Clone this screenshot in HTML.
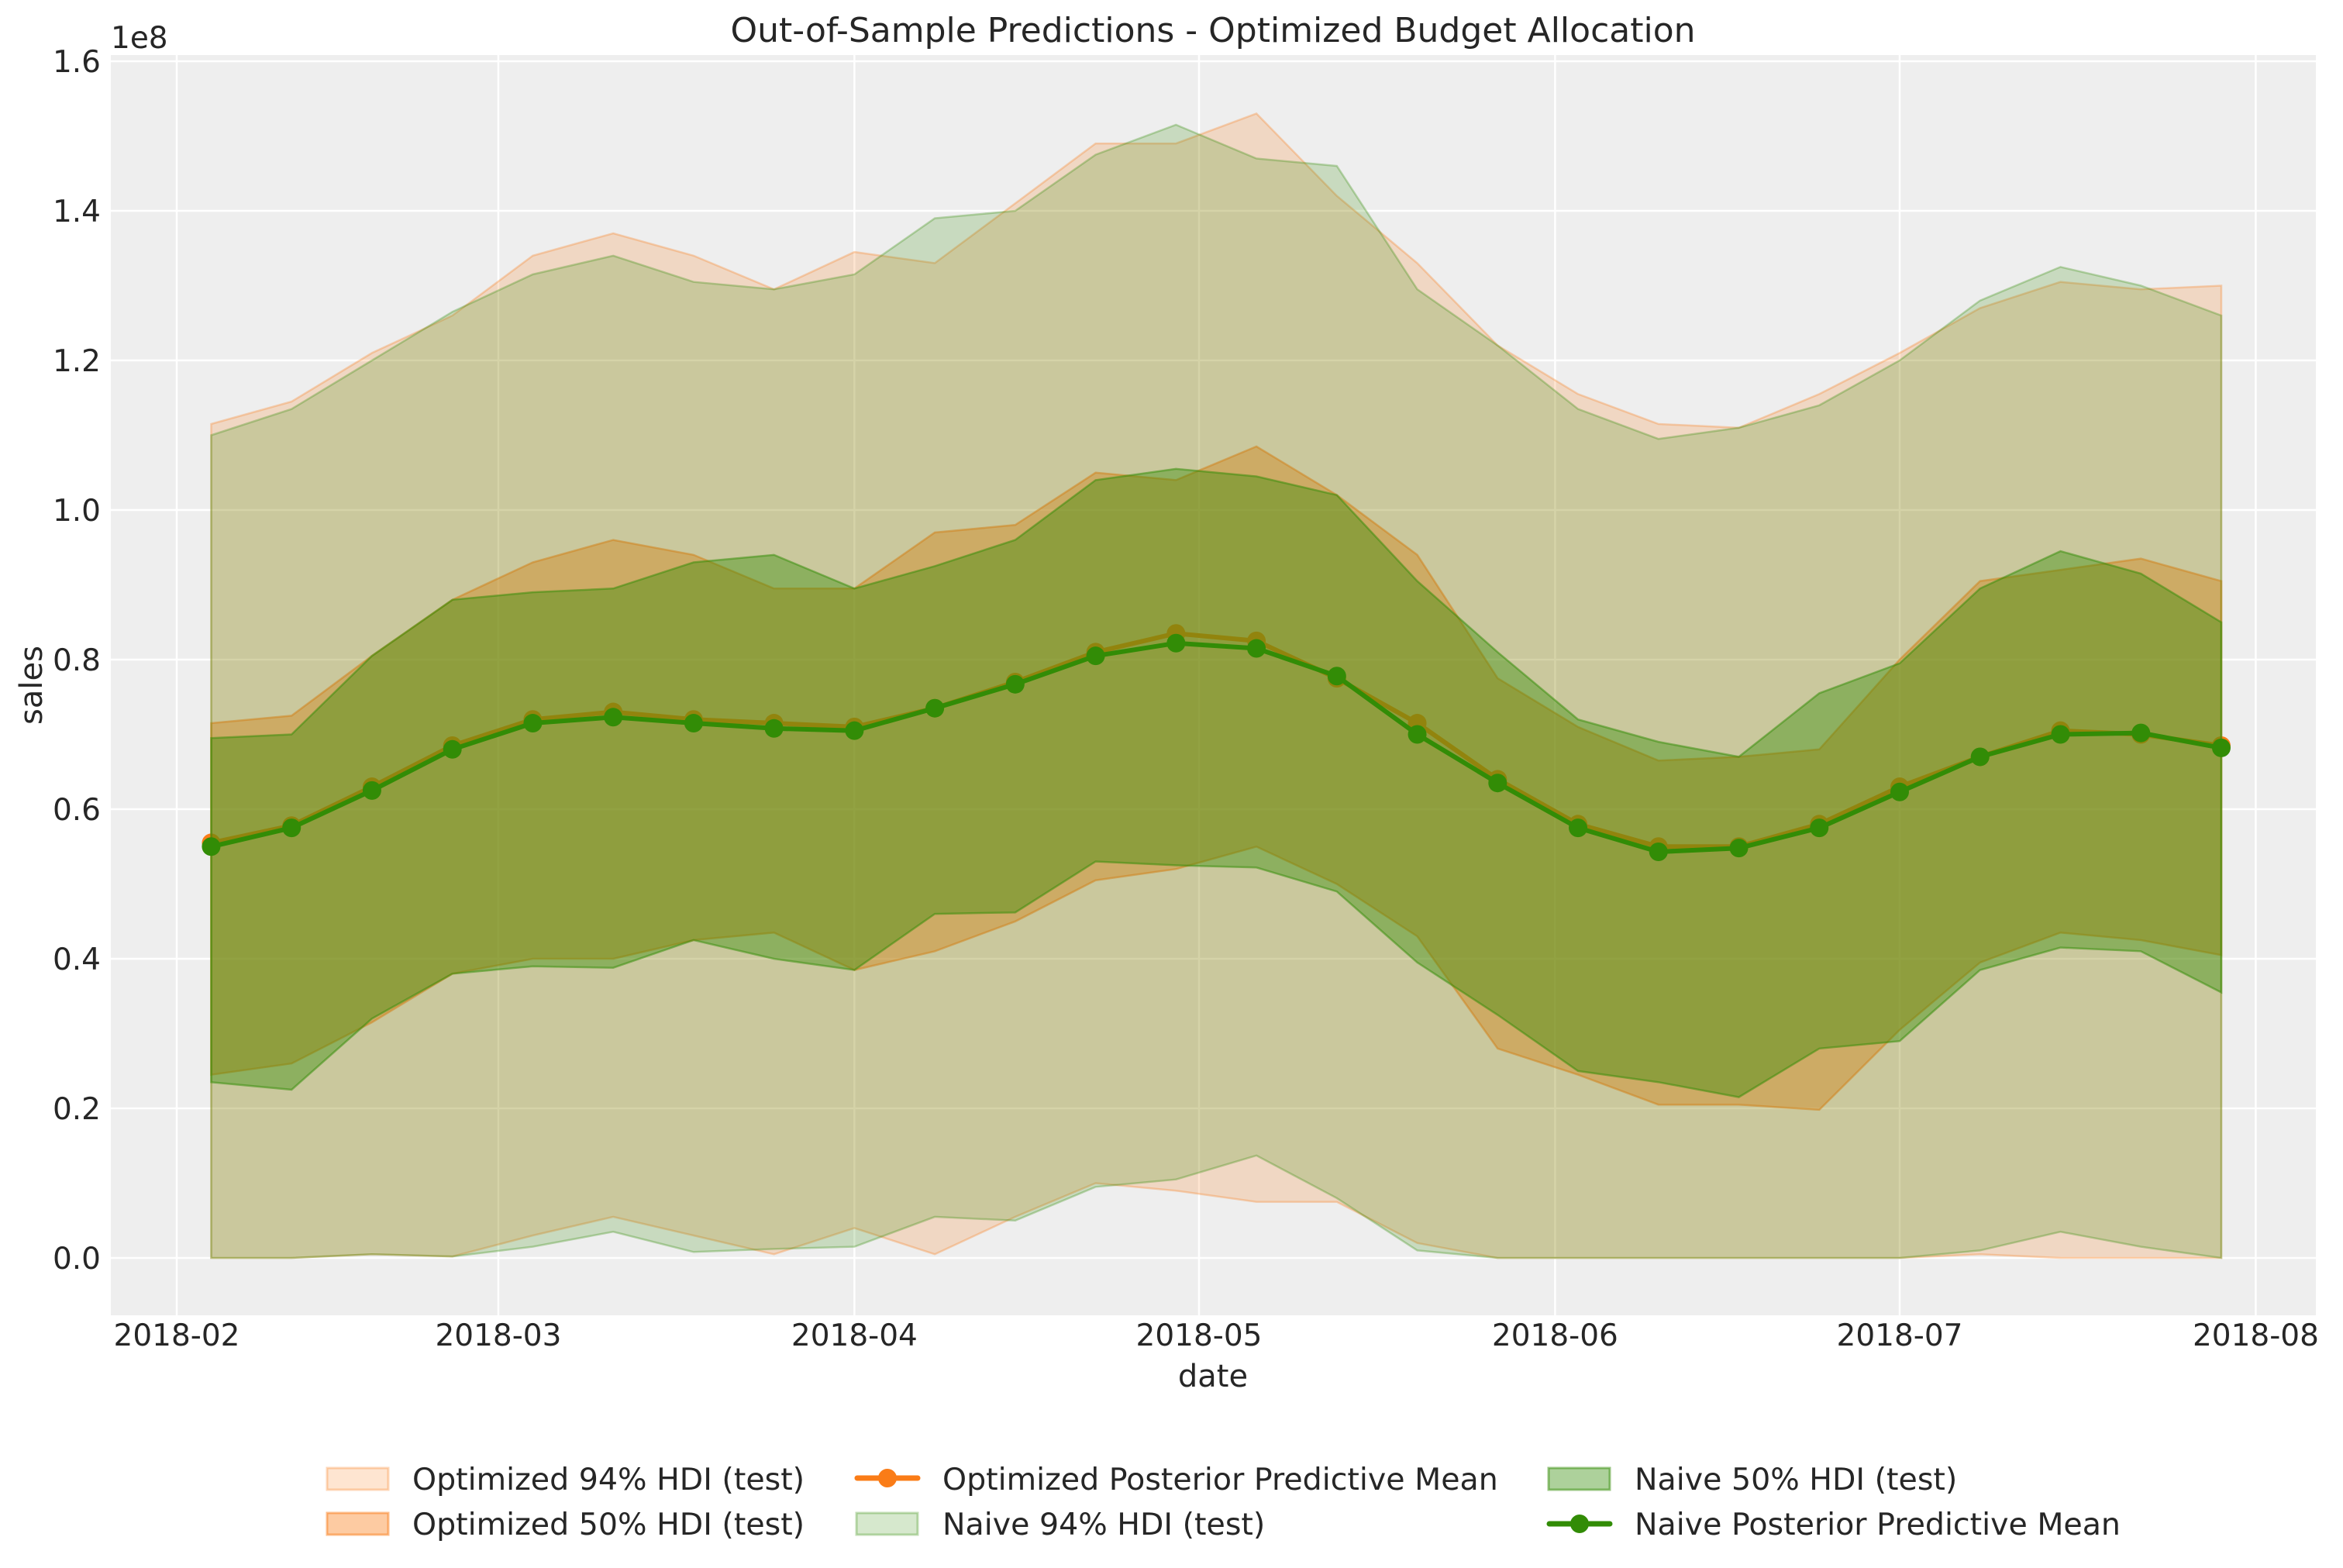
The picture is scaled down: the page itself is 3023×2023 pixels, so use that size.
<!DOCTYPE html>
<html><head><meta charset="utf-8"><style>
html,body{margin:0;padding:0;background:#fff;}
svg{display:block;font-family:"DejaVu Sans","Liberation Sans",sans-serif;}
</style></head><body>
<svg id="s" width="3023" height="2023" xmlns="http://www.w3.org/2000/svg">
<rect x="143" y="71" width="2845" height="1626" fill="#eeeeee"/>
<g id="grid" stroke="#ffffff" stroke-width="2.5"></g>
<g id="plot"></g>
<g id="ticks" fill="#262626" font-size="39"></g>
<text x="1565" y="54" text-anchor="middle" font-size="44" fill="#262626">Out-of-Sample Predictions - Optimized Budget Allocation</text>
<text x="1565" y="1789" text-anchor="middle" font-size="40" fill="#262626">date</text>
<text transform="translate(54,884) rotate(-90)" text-anchor="middle" font-size="40" fill="#262626">sales</text>
<text x="143" y="62" font-size="39" fill="#262626">1e8</text>
<g font-size="39.5" fill="#262626">
<rect x="422" y="1894" width="79" height="28" fill="#fa7c17" fill-opacity="0.2" stroke="#fa7c17" stroke-opacity="0.3" stroke-width="3"/>
<text x="532" y="1922">Optimized 94% HDI (test)</text>
<rect x="422" y="1952" width="79" height="28" fill="#fa7c17" fill-opacity="0.4" stroke="#fa7c17" stroke-opacity="0.5" stroke-width="3"/>
<text x="532" y="1980">Optimized 50% HDI (test)</text>
<line x1="1106" y1="1907" x2="1184" y2="1907" stroke="#fa7c17" stroke-width="7" stroke-linecap="round"/><circle cx="1145" cy="1907" r="12" fill="#fa7c17"/>
<text x="1216" y="1922">Optimized Posterior Predictive Mean</text>
<rect x="1105" y="1952" width="79" height="28" fill="#328c06" fill-opacity="0.2" stroke="#328c06" stroke-opacity="0.3" stroke-width="3"/>
<text x="1216" y="1980">Naive 94% HDI (test)</text>
<rect x="1998" y="1894" width="79" height="28" fill="#328c06" fill-opacity="0.4" stroke="#328c06" stroke-opacity="0.5" stroke-width="3"/>
<text x="2109" y="1922">Naive 50% HDI (test)</text>
<line x1="1999" y1="1966" x2="2077" y2="1966" stroke="#328c06" stroke-width="7" stroke-linecap="round"/><circle cx="2038" cy="1966" r="12" fill="#328c06"/>
<text x="2109" y="1980">Naive Posterior Predictive Mean</text>
</g>
</svg>
<script>
var NS="http://www.w3.org/2000/svg";
function X(i){return 228+(3+7*i)*14.82;}
function Y(v){return 1623-v*96.5;}
function el(p,t,a){var e=document.createElementNS(NS,t);for(var k in a)e.setAttribute(k,a[k]);p.appendChild(e);return e;}
var grid=document.getElementById('grid'),tk=document.getElementById('ticks'),plot=document.getElementById('plot');
for(var k=0;k<=8;k++){var y=Y(k*2);el(grid,'line',{x1:143,x2:2988,y1:y,y2:y});var t=el(tk,'text',{x:130,y:y+14,'text-anchor':'end'});t.textContent=(k*0.2).toFixed(1);}
var months=[0,28,59,89,120,150,181],labs=['2018-02','2018-03','2018-04','2018-05','2018-06','2018-07','2018-08'];
for(var m=0;m<7;m++){var x=228+months[m]*14.82;el(grid,'line',{x1:x,x2:x,y1:71,y2:1697});var t=el(tk,'text',{x:x,y:1736,'text-anchor':'middle'});t.textContent=labs[m];}
var om=[5.55,5.78,6.3,6.85,7.2,7.3,7.2,7.15,7.1,7.35,7.7,8.1,8.35,8.25,7.75,7.15,6.4,5.8,5.5,5.5,5.8,6.3,6.7,7.05,7.0,6.85];
var nm=[5.5,5.75,6.25,6.8,7.15,7.23,7.15,7.08,7.05,7.35,7.67,8.05,8.22,8.15,7.78,7.0,6.35,5.75,5.43,5.48,5.75,6.23,6.7,7.0,7.02,6.82];
var o94u=[11.15,11.45,12.1,12.6,13.4,13.7,13.4,12.95,13.45,13.3,14.1,14.9,14.9,15.3,14.2,13.3,12.2,11.55,11.15,11.1,11.55,12.1,12.7,13.05,12.95,13.0];
var o94l=[0,0,0.05,0.02,0.3,0.55,0.3,0.05,0.4,0.05,0.55,1.0,0.9,0.75,0.75,0.2,0,0,0,0,0,0,0.05,0,0,0];
var n94u=[11.0,11.35,12.0,12.65,13.15,13.4,13.05,12.95,13.15,13.9,14.0,14.75,15.15,14.7,14.6,12.95,12.2,11.35,10.95,11.1,11.4,12.0,12.8,13.25,13.0,12.6];
var n94l=[0,0,0.05,0.02,0.15,0.35,0.08,0.12,0.15,0.55,0.5,0.95,1.05,1.37,0.8,0.1,0,0,0,0,0,0,0.1,0.35,0.15,0];
var o50u=[7.15,7.25,8.05,8.8,9.3,9.6,9.4,8.95,8.95,9.7,9.8,10.5,10.4,10.85,10.2,9.4,7.75,7.1,6.65,6.7,6.8,8.0,9.05,9.2,9.35,9.05];
var o50l=[2.45,2.6,3.15,3.8,4.0,4.0,4.25,4.35,3.85,4.1,4.5,5.05,5.2,5.5,5.0,4.3,2.8,2.45,2.05,2.05,1.98,3.05,3.95,4.35,4.25,4.05];
var n50u=[6.95,7.0,8.05,8.8,8.9,8.95,9.3,9.4,8.95,9.25,9.6,10.4,10.55,10.45,10.2,9.05,8.1,7.2,6.9,6.7,7.55,7.95,8.95,9.45,9.15,8.5];
var n50l=[2.35,2.25,3.2,3.8,3.9,3.88,4.25,4.0,3.85,4.6,4.62,5.3,5.25,5.22,4.9,3.95,3.25,2.5,2.35,2.15,2.8,2.9,3.85,4.15,4.1,3.55];
function band(u,l,c,op){var d='';for(var i=0;i<u.length;i++)d+=(i?'L':'M')+X(i).toFixed(1)+','+Y(u[i]).toFixed(1);for(var i=l.length-1;i>=0;i--)d+='L'+X(i).toFixed(1)+','+Y(l[i]).toFixed(1);d+='Z';el(plot,'path',{d:d,fill:c,'fill-opacity':op,stroke:c,'stroke-opacity':op+0.1,'stroke-width':2.5});}
function line(v,c){var d='';for(var i=0;i<v.length;i++)d+=(i?'L':'M')+X(i).toFixed(1)+','+Y(v[i]).toFixed(1);el(plot,'path',{d:d,fill:'none',stroke:c,'stroke-width':6,'stroke-linejoin':'round'});for(var i=0;i<v.length;i++)el(plot,'circle',{cx:X(i),cy:Y(v[i]),r:12,fill:c});}
band(o94u,o94l,'#fa7c17',0.2);
band(o50u,o50l,'#fa7c17',0.4);
line(om,'#fa7c17');
band(n94u,n94l,'#328c06',0.2);
band(n50u,n50l,'#328c06',0.4);
line(nm,'#328c06');
</script>
</body></html>
